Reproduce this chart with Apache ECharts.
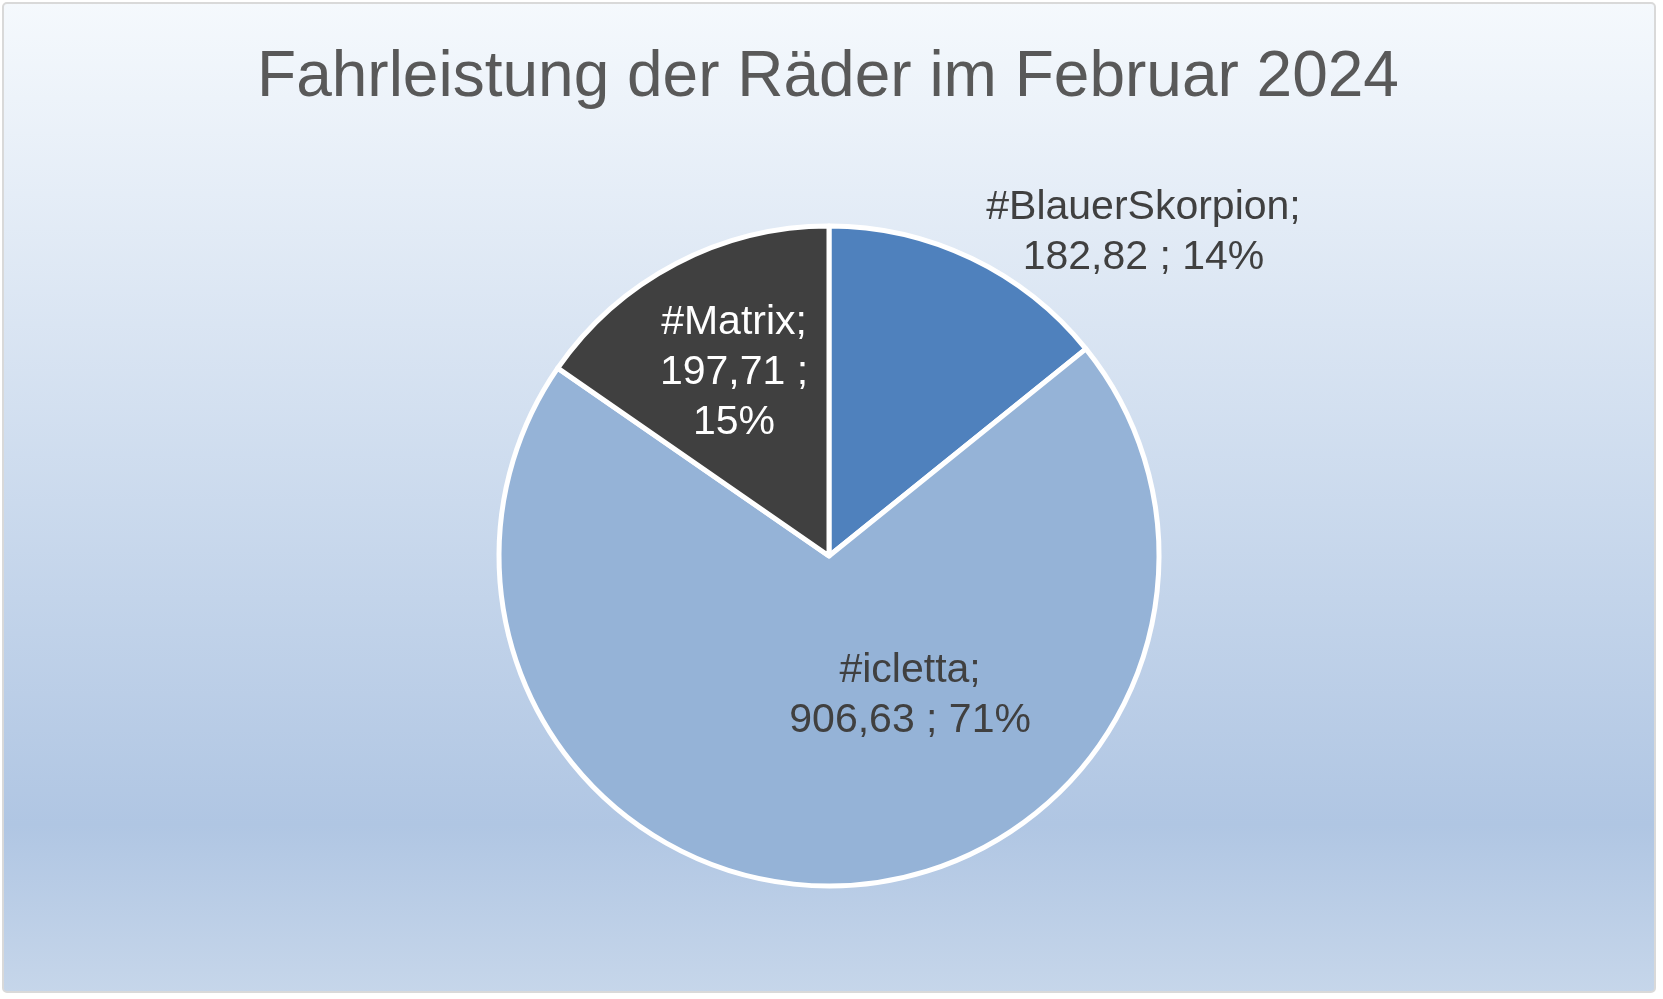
<!DOCTYPE html>
<html>
<head>
<meta charset="utf-8">
<script src="https://cdn.jsdelivr.net/npm/echarts@6/dist/echarts.min.js"></script>
<style>
html,body{margin:0;padding:0;background:#ffffff;}
#chart{width:1663px;height:999px;}
</style>
</head>
<body>
<div id="chart"></div>
<script>
const titleText = 'Fahrleistung der Räder im Februar 2024';
const categories = ['#BlauerSkorpion', '#icletta', '#Matrix'];
const values = [182.82, 906.63, 197.71];
const percentLabels = ['14%', '71%', '15%'];
const colors = ['#4f81bd', '#95b3d7', '#404040'];
const labelColors = ['#404040', '#404040', '#ffffff'];

const fmt = v => v.toFixed(2).replace('.', ',');
const labelOffsets = [[242, -172], [75, -28], [-17, -34]];

const data = categories.map((c, i) => ({
  name: c,
  value: values[i],
  itemStyle: { color: colors[i] },
  label: { color: labelColors[i] }
}));

const chart = echarts.init(document.getElementById('chart'), null, { renderer: 'canvas' });
chart.setOption({
  animation: false,
  graphic: [{
    type: 'rect',
    z: -10,
    silent: true,
    shape: { x: 3, y: 3, width: 1652, height: 989, r: 4 },
    style: {
      fill: new echarts.graphic.LinearGradient(0, 0, 0, 1, [
        { offset: 0, color: '#f5f9fd' },
        { offset: 0.83, color: '#b0c6e3' },
        { offset: 1, color: '#c6d6ea' }
      ]),
      stroke: '#d9d9d9',
      lineWidth: 2
    }
  }],
  title: {
    text: titleText,
    left: 828,
    textAlign: 'center',
    top: 46,
    padding: 0,
    textStyle: {
      fontFamily: 'Liberation Sans, Arial, sans-serif',
      fontSize: 64,
      fontWeight: 'normal',
      color: '#595959'
    }
  },
  series: [{
    type: 'pie',
    center: [829, 556],
    radius: 330,
    startAngle: 90,
    clockwise: true,
    avoidLabelOverlap: false,
    itemStyle: { borderColor: '#ffffff', borderWidth: 5 },
    label: {
      show: true,
      position: 'inside',
      fontFamily: 'Liberation Sans, Arial, sans-serif',
      fontSize: 41,
      lineHeight: 50,
      align: 'center',
      formatter: p => {
        const i = p.dataIndex;
        if (i === 2) return p.name + ';\n' + fmt(p.value) + ' ;\n' + percentLabels[i];
        return p.name + ';\n' + fmt(p.value) + ' ; ' + percentLabels[i];
      }
    },
    labelLine: { show: false },
    labelLayout: p => ({ dx: labelOffsets[p.dataIndex][0], dy: labelOffsets[p.dataIndex][1] }),
    emphasis: { disabled: true },
    data: data
  }]
});
</script>
</body>
</html>
